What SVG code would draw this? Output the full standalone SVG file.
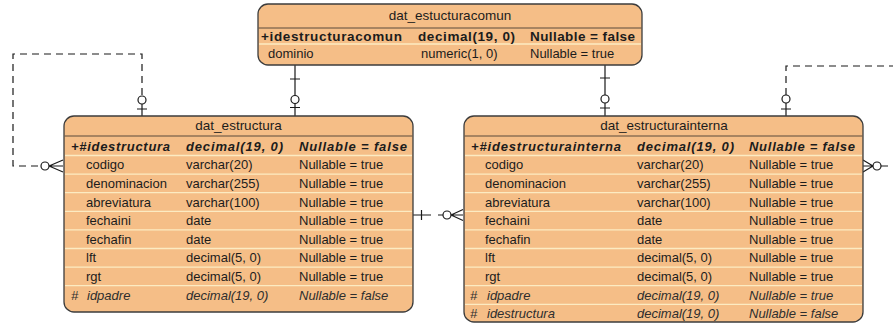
<svg xmlns="http://www.w3.org/2000/svg" width="893" height="323" viewBox="0 0 893 323">
  <style>
    .box { fill: #F5BE87; stroke: #3c3c3c; stroke-width: 1.3; }
    .hdr { stroke: #5a4a3a; stroke-width: 1; }
    .sep { stroke: #FCEBC2; stroke-width: 1.3; }
    text { font-family: "Liberation Sans", Arial, sans-serif; font-size: 13px; fill: #1c1c1c; }
    .title { font-size: 13.5px; text-anchor: middle; }
    .pk { font-weight: bold; font-size: 13.5px; }
    .pki { font-weight: bold; font-style: italic; }
    .fk { font-style: italic; fill: #2e2e2e; }
    .line { fill: none; stroke: #1a1a1a; stroke-width: 1.2; }
    .dash { fill: none; stroke: #1a1a1a; stroke-width: 1.2; stroke-dasharray: 7 5; }
    .ring { fill: #ffffff; stroke: #1a1a1a; stroke-width: 1.2; }
  </style>

  <!-- relationship lines -->
  <g id="connectors">
    <!-- dat_estucturacomun -> dat_estructura -->
    <path class="line" d="M295,65 V116 M290,79 H300 M290,107.5 H300"/>
    <circle class="ring" cx="295" cy="99.5" r="4"/>
    <!-- dat_estucturacomun -> dat_estructurainterna -->
    <path class="line" d="M605,65 V116 M600,78 H610 M600,108 H610"/>
    <circle class="ring" cx="605" cy="99" r="4"/>

    <!-- dat_estructura self reference (idpadre) -->
    <path class="dash" d="M142,95 V54 H13 V166 H40"/>
    <path class="line" d="M142,104 V116 M137,109 H147"/>
    <circle class="ring" cx="142" cy="100" r="4"/>
    <path class="line" d="M49,166 L63,160 M49,166 H63 M49,166 L63,172"/>
    <circle class="ring" cx="45" cy="166" r="4"/>

    <!-- dat_estructurainterna self reference (idpadre) -->
    <path class="dash" d="M786,95 V66 H893"/>
    <path class="line" d="M786,103 V116 M781,109 H791"/>
    <circle class="ring" cx="786" cy="99" r="4"/>
    <path class="line" d="M873,166 L863,160 M873,166 H863 M873,166 L863,172 M881,166 H888"/>
    <circle class="ring" cx="877" cy="166" r="4"/>

    <!-- dat_estructura -> dat_estructurainterna (idestructura) -->
    <path class="line" d="M413,215 H431 M421.5,210 V220 M438,215 H443"/>
    <circle class="ring" cx="447" cy="215" r="4"/>
    <path class="line" d="M451,215 L463,209.5 M451,215 H463 M451,215 L463,220.5"/>
  </g>

  <!-- table dat_estucturacomun -->
  <g id="dat_estucturacomun">
    <rect class="box" x="258" y="4" width="384" height="61" rx="10" ry="10"/>
    <line class="hdr" x1="258.6" y1="28" x2="641.4" y2="28"/>
    <line class="sep" x1="259" y1="44" x2="641" y2="44"/>
    <text class="title" x="450" y="19.5">dat_estucturacomun</text>
    <text class="pk" x="261" y="40.5" textLength="141">+idestructuracomun</text>
    <text class="pk" x="418" y="40.5" textLength="97">decimal(19, 0)</text>
    <text class="pk" x="530" y="40.5" textLength="105">Nullable = false</text>
    <text x="268" y="57.5">dominio</text>
    <text x="421" y="57.5">numeric(1, 0)</text>
    <text x="530" y="57.5">Nullable = true</text>
  </g>

  <!-- table dat_estructura -->
  <g id="dat_estructura">
    <rect class="box" x="64" y="116" width="349" height="196" rx="10" ry="10"/>
    <line class="hdr" x1="64.6" y1="136" x2="412.4" y2="136"/>
    <g class="sep">
      <line x1="65" y1="155.5" x2="412" y2="155.5"/>
      <line x1="65" y1="174.1" x2="412" y2="174.1"/>
      <line x1="65" y1="192.7" x2="412" y2="192.7"/>
      <line x1="65" y1="211.3" x2="412" y2="211.3"/>
      <line x1="65" y1="229.9" x2="412" y2="229.9"/>
      <line x1="65" y1="248.5" x2="412" y2="248.5"/>
      <line x1="65" y1="267.1" x2="412" y2="267.1"/>
      <line x1="65" y1="285.7" x2="412" y2="285.7"/>
    </g>
    <text class="title" x="238.5" y="130">dat_estructura</text>
    <text class="pki" x="71" y="150.5" textLength="99">+#idestructura</text>
    <text class="pki" x="186" y="150.5" textLength="97">decimal(19, 0)</text>
    <text class="pki" x="299" y="150.5" textLength="108">Nullable = false</text>

    <text x="86" y="169.3">codigo</text>
    <text x="186" y="169.3">varchar(20)</text>
    <text x="299" y="169.3">Nullable = true</text>

    <text x="86" y="187.9">denominacion</text>
    <text x="186" y="187.9">varchar(255)</text>
    <text x="299" y="187.9">Nullable = true</text>

    <text x="86" y="206.5">abreviatura</text>
    <text x="186" y="206.5">varchar(100)</text>
    <text x="299" y="206.5">Nullable = true</text>

    <text x="86" y="225.1">fechaini</text>
    <text x="186" y="225.1">date</text>
    <text x="299" y="225.1">Nullable = true</text>

    <text x="86" y="243.7">fechafin</text>
    <text x="186" y="243.7">date</text>
    <text x="299" y="243.7">Nullable = true</text>

    <text x="86" y="262.3">lft</text>
    <text x="186" y="262.3">decimal(5, 0)</text>
    <text x="299" y="262.3">Nullable = true</text>

    <text x="86" y="280.9">rgt</text>
    <text x="186" y="280.9">decimal(5, 0)</text>
    <text x="299" y="280.9">Nullable = true</text>

    <text class="fk" x="71" y="299.5">#</text>
    <text class="fk" x="87" y="299.5">idpadre</text>
    <text class="fk" x="186" y="299.5">decimal(19, 0)</text>
    <text class="fk" x="299" y="299.5">Nullable = false</text>
  </g>

  <!-- table dat_estructurainterna -->
  <g id="dat_estructurainterna">
    <rect class="box" x="464" y="116" width="399" height="206" rx="10" ry="10"/>
    <line class="hdr" x1="464.6" y1="136" x2="862.4" y2="136"/>
    <g class="sep">
      <line x1="465" y1="155.5" x2="862" y2="155.5"/>
      <line x1="465" y1="174.1" x2="862" y2="174.1"/>
      <line x1="465" y1="192.7" x2="862" y2="192.7"/>
      <line x1="465" y1="211.3" x2="862" y2="211.3"/>
      <line x1="465" y1="229.9" x2="862" y2="229.9"/>
      <line x1="465" y1="248.5" x2="862" y2="248.5"/>
      <line x1="465" y1="267.1" x2="862" y2="267.1"/>
      <line x1="465" y1="285.7" x2="862" y2="285.7"/>
      <line x1="465" y1="304.3" x2="862" y2="304.3"/>
    </g>
    <text class="title" x="664" y="130">dat_estructurainterna</text>
    <text class="pki" x="471" y="150.5" textLength="150">+#idestructurainterna</text>
    <text class="pki" x="637" y="150.5" textLength="97">decimal(19, 0)</text>
    <text class="pki" x="749" y="150.5" textLength="106">Nullable = false</text>

    <text x="485" y="169.3">codigo</text>
    <text x="637" y="169.3">varchar(20)</text>
    <text x="749" y="169.3">Nullable = true</text>

    <text x="485" y="187.9">denominacion</text>
    <text x="637" y="187.9">varchar(255)</text>
    <text x="749" y="187.9">Nullable = true</text>

    <text x="485" y="206.5">abreviatura</text>
    <text x="637" y="206.5">varchar(100)</text>
    <text x="749" y="206.5">Nullable = true</text>

    <text x="485" y="225.1">fechaini</text>
    <text x="637" y="225.1">date</text>
    <text x="749" y="225.1">Nullable = true</text>

    <text x="485" y="243.7">fechafin</text>
    <text x="637" y="243.7">date</text>
    <text x="749" y="243.7">Nullable = true</text>

    <text x="485" y="262.3">lft</text>
    <text x="637" y="262.3">decimal(5, 0)</text>
    <text x="749" y="262.3">Nullable = true</text>

    <text x="485" y="280.9">rgt</text>
    <text x="637" y="280.9">decimal(5, 0)</text>
    <text x="749" y="280.9">Nullable = true</text>

    <text class="fk" x="470" y="299.5">#</text>
    <text class="fk" x="487" y="299.5">idpadre</text>
    <text class="fk" x="637" y="299.5">decimal(19, 0)</text>
    <text class="fk" x="749" y="299.5">Nullable = true</text>

    <text class="fk" x="470" y="318">#</text>
    <text class="fk" x="487" y="318">idestructura</text>
    <text class="fk" x="637" y="318">decimal(19, 0)</text>
    <text class="fk" x="749" y="318">Nullable = false</text>
  </g>
</svg>
